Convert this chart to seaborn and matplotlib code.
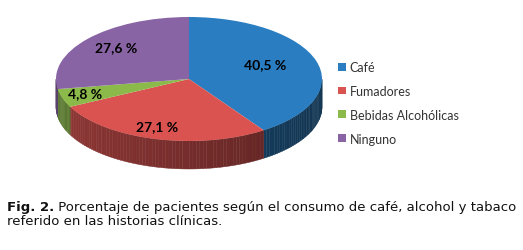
import numpy as np
import matplotlib
matplotlib.use("Agg")
import matplotlib.pyplot as plt
import seaborn as sns
from matplotlib.patches import Polygon

# ---- data ----
categories = ["Café", "Fumadores", "Bebidas Alcohólicas", "Ninguno"]
values = [40.5, 27.1, 4.8, 27.6]
value_labels = ["40,5 %", "27,1 %", "4,8 %", "27,6 %"]
caption_bold = "Fig. 2."
caption_text = " Porcentaje de pacientes según el consumo de café, alcohol y tabaco"
caption_line2 = "referido en las historias clínicas."

colors = ["#2A7DC1", "#DA5350", "#8BBA4A", "#8964A5"]

sns.set_theme(style="white")
plt.rcParams["font.family"] = ["DejaVu Sans"]

W, H = 523, 251
fig = plt.figure(figsize=(W / 100, H / 100), dpi=100)
fig.patch.set_facecolor("white")

# ellipse geometry in pixels
cx, cy, a, b, depth = 189, 80, 133, 62, 28
ax = fig.add_axes([(cx - a) / W, 1 - (cy + b) / H, 2 * a / W, 2 * b / H])
pal = sns.color_palette(colors)

wedges, _ = ax.pie(values, colors=pal, startangle=90, counterclock=False,
                   radius=1, center=(0, 0), wedgeprops=dict(linewidth=0, zorder=3))
ax.set_aspect("auto")
ax.set_xlim(-1, 1)
ax.set_ylim(-1, 1)
ax.axis("off")

# side walls (front half of the cylinder)
d = depth / b
fr = np.array(values) / np.sum(values)
cum = np.concatenate([[0], np.cumsum(fr)])
for i, col in enumerate(pal):
    t_hi = 90 - cum[i] * 360
    t_lo = 90 - cum[i + 1] * 360
    for shift in (0, -360, 360):
        lo, hi = t_lo + shift, t_hi + shift
        s, e = max(lo, -180), min(hi, 0)
        if e <= s:
            continue
        ts = np.linspace(s, e, max(2, int((e - s) / 1.5) + 2))
        for k in range(len(ts) - 1):
            t0, t1 = np.radians(ts[k]), np.radians(ts[k + 1])
            c = np.cos((t0 + t1) / 2)
            f = 0.65 - 0.23 * (c + 1) / 2
            rgb = np.array(col) * f
            poly = Polygon([[np.cos(t0), np.sin(t0)], [np.cos(t1), np.sin(t1)],
                            [np.cos(t1), np.sin(t1) - d], [np.cos(t0), np.sin(t0) - d]],
                           closed=True, facecolor=rgb, edgecolor=rgb, linewidth=0.3,
                           zorder=2, clip_on=False)
            ax.add_patch(poly)

# value labels (pixel positions)
label_pos = [(265, 65), (157, 127), (85, 94), (116, 48)]
for (px, py), txt in zip(label_pos, value_labels):
    fig.text(px / W, 1 - py / H, txt, ha="center", va="center", fontsize=10,
             fontweight="bold", family=["Lato", "DejaVu Sans"], color="black", zorder=5)

# legend
leg = fig.legend(wedges, categories, loc="upper left",
                 bbox_to_anchor=(338 / W, 1 - 62 / H), frameon=False,
                 handlelength=0.6, handleheight=0.6, handletextpad=0.35,
                 labelspacing=0.95, borderpad=0, borderaxespad=0,
                 prop=dict(family=["Lato", "DejaVu Sans"], size=9))
for t in leg.get_texts():
    t.set_color("#333333")

# caption
fs = 9.5
t1 = fig.text(7 / W, 1 - 208 / H, caption_bold, ha="left", va="center",
              fontsize=fs, fontweight="bold", color="#111111")
fig.canvas.draw()
r = fig.canvas.get_renderer()
bb = t1.get_window_extent(r)
fig.text(bb.x1 / W, 1 - 208 / H, caption_text, ha="left", va="center",
         fontsize=fs, color="#111111")
fig.text(7 / W, 1 - 222 / H, caption_line2, ha="left", va="center",
         fontsize=fs, color="#111111")

fig.savefig("out.png", dpi=100, facecolor="white")
